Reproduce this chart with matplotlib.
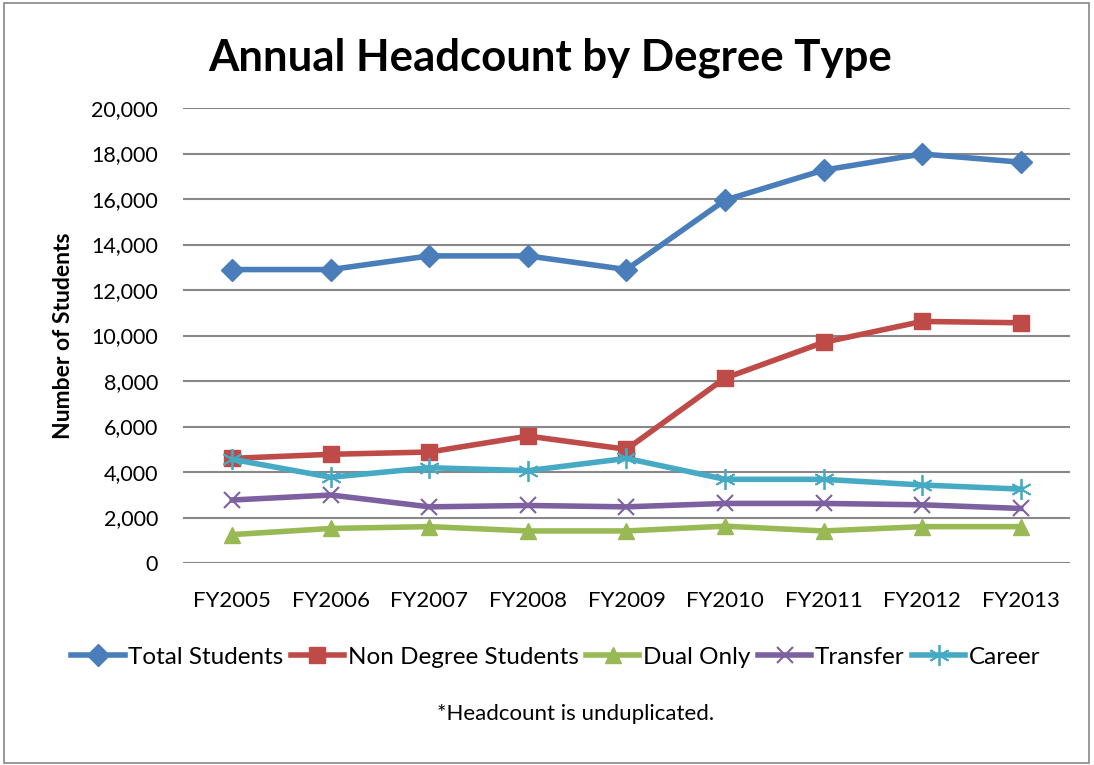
import matplotlib.pyplot as plt
from matplotlib.patches import Rectangle
from matplotlib.ticker import FuncFormatter

# values
years = ['FY2005', 'FY2006', 'FY2007', 'FY2008', 'FY2009', 'FY2010', 'FY2011', 'FY2012', 'FY2013']
total_students = [12900, 12900, 13500, 13500, 12900, 15950, 17270, 17980, 17620]
non_degree = [4600, 4780, 4880, 5580, 5000, 8130, 9700, 10620, 10560]
dual_only = [1250, 1520, 1600, 1410, 1410, 1620, 1410, 1600, 1600]
transfer = [2770, 2990, 2470, 2530, 2470, 2620, 2620, 2560, 2400]
career = [4560, 3770, 4190, 4060, 4600, 3680, 3680, 3430, 3250]

series = [
    ('Total Students', total_students, '#4A7EBB', 'D', 11),
    ('Non Degree Students', non_degree, '#BE4B48', 's', 11),
    ('Dual Only', dual_only, '#98B954', '^', 12),
    ('Transfer', transfer, '#7D60A0', 'x', 12),
    ('Career', career, '#46AAC5', 'star', 15),
]

plt.rcParams['font.family'] = ['Lato', 'DejaVu Sans']

fig = plt.figure(figsize=(10.94, 7.65), dpi=100)
ax = fig.add_axes([0.1673, 0.264, 0.8107, 0.5948])

x = list(range(len(years)))
for name, vals, col, mk, ms in series:
    if mk == 'x':
        ax.plot(x, vals, color=col, lw=4, marker=mk, ms=ms, mew=1.5, label=name)
    elif mk == 'star':
        # asterisk marker drawn with thin strokes over the thick line
        ax.plot(x, vals, color=col, lw=4, label='_nolegend_')
        ax.plot(x, vals, color=col, lw=4, ls='none', marker=(6, 2, 0), ms=ms, mew=1.3)
        ax.plot([], [], color=col, lw=4, marker=(6, 2, 0), ms=ms, mew=1.3, label=name)
    else:
        ax.plot(x, vals, color=col, lw=4, marker=mk, ms=ms, label=name)

ax.set_xlim(-0.5, 8.5)
ax.set_ylim(0, 20000)
ax.set_yticks(range(0, 20001, 2000))
ax.yaxis.set_major_formatter(FuncFormatter(lambda v, p: f'{int(v):,}'))
ax.set_xticks(x)
ax.set_xticklabels(years)
ax.tick_params(axis='y', labelsize=15.5, length=0, pad=18)
ax.tick_params(axis='x', labelsize=16, length=0, pad=20)
ax.grid(axis='y', color='#888888', lw=1.5)
ax.set_axisbelow(True)
for s in ax.spines.values():
    s.set_visible(False)

ax.set_ylabel('Number of Students', fontsize=16.5, fontweight='bold', labelpad=12)
fig.text(0.503, 0.924, 'Annual Headcount by Degree Type', ha='center', va='center',
         fontsize=31.5, fontweight='bold')

fig.legend(loc='center', bbox_to_anchor=(0.508, 0.141), ncol=5, frameon=False,
           fontsize=17.5, handlelength=2.2, handletextpad=0.15, columnspacing=0.3)
fig.text(0.526, 0.067, '*Headcount is unduplicated.', ha='center', va='center', fontsize=16)

fig.patches.append(Rectangle((0.004, 0.002), 0.991, 0.994, transform=fig.transFigure,
                             fill=False, edgecolor='#888888', lw=1.2))

fig.savefig('out.png', dpi=100)
